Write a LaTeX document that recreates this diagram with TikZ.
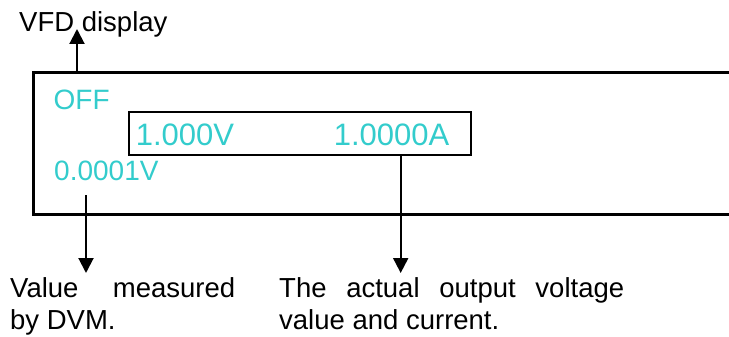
\documentclass[tikz,border=0pt]{standalone}
\usepackage{fontspec}
\setmainfont{Liberation Sans}
\usetikzlibrary{arrows.meta}
\definecolor{vfdcyan}{RGB}{51,204,204}
\tolerance=10000
\hyphenpenalty=10000
\begin{document}
\begin{tikzpicture}[
		% 1 enota = 1 piksel slike, y navzdol
		x=1pt, y=-1pt,
		vfdtext/.style={anchor=base west, inner sep=0pt, text=vfdcyan, font=\fontsize{28}{32}\selectfont},
		readtext/.style={vfdtext, font=\fontsize{31}{36}\selectfont},
		label/.style={anchor=base west, inner sep=0pt, font=\fontsize{27.5}{32}\selectfont},
		note/.style={anchor=north west, inner sep=0pt, align=justify, font=\fontsize{27.5}{32}\selectfont},
		pointer/.style={line width=2pt, -{Triangle[length=15pt,width=15pt]}},
		]
		\useasboundingbox (0,0) rectangle (729,337);
		% okvir zaslona, desno odprt
		\draw[line width=3pt] (729,73) -- (33,73) -- (33,214) -- (729,214);
		\node[draw, line width=2pt, minimum width=342pt, minimum height=43pt, inner sep=0pt] (readout) at (300,133.5) {};
		\node[vfdtext] (state) at (53.5,110) {OFF};
		\node[vfdtext] (dvm) at (54,180) {0.0001V};
		\node[readtext] (volt) at (135.6,146) {1.000V};
		\node[readtext] (amp) at (333.6,146) {1.0000A};
		\node[label] (vfd) at (19,32) {VFD display};
		\node[note, text width=225pt] (dvmnote) at (10,277) {Value measured by DVM.};
		\node[note, text width=345pt] (outnote) at (279,277) {The actual output voltage value and current.};
		% puscice
		\coordinate (disptop) at (77,73);
		\coordinate (vfdtip) at (77,29);
		\coordinate (dvmfoot) at (86,195);
		\coordinate (dvmtip) at (86,273);
		\coordinate (outtip) at (400.7,273);
		\draw[pointer] (disptop) -- (vfdtip);
		\draw[pointer] (dvmfoot) -- (dvmtip);
		\draw[pointer] (readout.south -| outtip) -- (outtip);
	\end{tikzpicture}
\end{document}
